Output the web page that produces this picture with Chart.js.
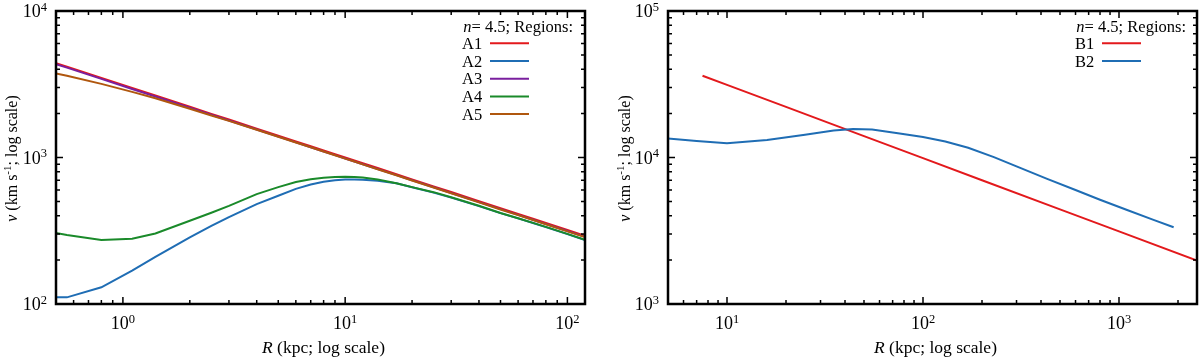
<!DOCTYPE html>
<html>
<head>
<meta charset="utf-8">
<script src="https://cdn.jsdelivr.net/npm/chart.js@4.4.1/dist/chart.umd.min.js"></script>
<style>
  html, body { margin: 0; padding: 0; background: #fff; }
  #wrap { position: relative; width: 1200px; height: 358px; }
  canvas { position: absolute; top: 0; }
</style>
</head>
<body>
<div id="wrap">
  <canvas id="chartA" width="600" height="358" style="left:0"></canvas>
  <canvas id="chartB" width="600" height="358" style="left:600px"></canvas>
</div>
<script>
// ---- left panel: regions A (R in kpc, v in km/s) ----
var rA  = [0.5, 0.56, 0.8, 1.1, 1.4, 2, 2.5, 3, 4, 5, 6, 7, 8, 9, 10, 11, 12, 14, 17, 20, 25, 30, 40, 50, 60, 70, 80, 100, 120];
var vA1 = [4406, 4166, 3492, 2982, 2647, 2219, 1986, 1815, 1574, 1409, 1288, 1194, 1117, 1054, 1000, 954, 914, 847, 769, 709, 635, 581, 503, 451, 412, 382, 357, 320, 292];
var vA2 = [111, 111, 130, 169, 210, 285, 341, 392, 481, 548, 611, 655, 683, 700, 708, 709, 706, 695, 668, 627, 576, 532, 466, 417, 384, 357, 335, 300, 273];
var vA3 = [4341, 4104, 3440, 2938, 2608, 2186, 1957, 1788, 1551, 1388, 1269, 1176, 1100, 1038, 985, 940, 900, 834, 758, 699, 626, 572, 496, 444, 406, 376, 352, 315, 288];
var vA4 = [305, 296, 273, 279, 303, 370, 420, 468, 562, 628, 680, 710, 728, 737, 740, 737, 731, 708, 668, 628, 580, 535, 468, 418, 385, 358, 336, 301, 274];
var vA5 = [3743, 3612, 3182, 2806, 2535, 2153, 1937, 1779, 1546, 1385, 1266, 1174, 1098, 1036, 983, 938, 898, 832, 756, 697, 624, 570, 494, 442, 404, 374, 350, 313, 286];

// ---- right panel: regions B ----
var rB1 = [7.5, 10, 20, 50, 100, 200, 500, 1000, 2500];
var vB1 = [36150, 31300, 22140, 14000, 9900, 7000, 4427, 3130, 1980];
var rB2 = [5, 7, 10, 16, 25, 35, 44, 55, 76, 100, 130, 170, 230, 300, 430, 600, 800, 1100, 1500, 1900];
var vB2 = [13500, 12950, 12500, 13150, 14300, 15300, 15650, 15550, 14600, 13800, 12850, 11650, 10050, 8700, 7150, 6000, 5150, 4380, 3750, 3340];

// ---- axes ----
var xTicksA = [1, 10, 100];        var xExpA = ['0', '1', '2'];
var yTicksA = [100, 1000, 10000];  var yExpA = ['2', '3', '4'];
var xTicksB = [10, 100, 1000];     var xExpB = ['1', '2', '3'];
var yTicksB = [1000, 10000, 100000]; var yExpB = ['3', '4', '5'];

var namesA = ['A1', 'A2', 'A3', 'A4', 'A5'];
var namesB = ['B1', 'B2'];
var RED = '#e3191c', BLUE = '#1f6db4', PURPLE = '#7a1f9e', GREEN = '#1a8a2a', BROWN = '#b0570e';

var SERIF = '"Liberation Serif", "DejaVu Serif", serif';

function pts(xs, ys) {
  return xs.map(function (x, i) { return { x: x, y: ys[i] }; });
}

function minorValues(min, max) {
  var out = [];
  for (var d = Math.floor(Math.log10(min)); d <= Math.floor(Math.log10(max)); d++) {
    for (var m = 1; m <= 9; m++) {
      var v = m * Math.pow(10, d);
      if (v >= min * 0.999 && v <= max * 1.001) out.push({ v: v, major: m === 1 });
    }
  }
  return out;
}

function powLabel(ctx, x, y, exp, align) {
  ctx.font = '18px ' + SERIF;
  var w1 = ctx.measureText('10').width;
  ctx.font = '12.5px ' + SERIF;
  var w2 = ctx.measureText(exp).width;
  var x0 = align === 'right' ? x - w1 - w2 : x - (w1 + w2) / 2;
  ctx.font = '18px ' + SERIF;
  ctx.fillText('10', x0, y);
  ctx.font = '12.5px ' + SERIF;
  ctx.fillText(exp, x0 + w1, y - 6.5);
}

function decor(p) {
  return {
    id: 'decor',
    afterDraw: function (chart) {
      var ctx = chart.ctx, a = chart.chartArea, xs = chart.scales.x, ys = chart.scales.y;
      ctx.save();
      ctx.strokeStyle = '#000';
      ctx.fillStyle = '#000';

      // inward ticks, all four sides
      ctx.lineWidth = 1.5;
      ctx.beginPath();
      minorValues(xs.min, xs.max).forEach(function (t) {
        var px = xs.getPixelForValue(t.v), len = t.major ? 7 : 4;
        ctx.moveTo(px, a.bottom); ctx.lineTo(px, a.bottom - len);
        ctx.moveTo(px, a.top); ctx.lineTo(px, a.top + len);
      });
      minorValues(ys.min, ys.max).forEach(function (t) {
        var py = ys.getPixelForValue(t.v), len = t.major ? 7 : 4;
        ctx.moveTo(a.left, py); ctx.lineTo(a.left + len, py);
        ctx.moveTo(a.right, py); ctx.lineTo(a.right - len, py);
      });
      ctx.stroke();

      // frame
      ctx.lineWidth = 2.5;
      ctx.strokeRect(a.left, a.top, a.right - a.left, a.bottom - a.top);

      // tick labels
      ctx.textBaseline = 'alphabetic';
      ctx.textAlign = 'left';
      p.xTicks.forEach(function (v, i) {
        powLabel(ctx, xs.getPixelForValue(v), a.bottom + 25, p.xExp[i], 'center');
      });
      p.yTicks.forEach(function (v, i) {
        powLabel(ctx, a.left - 9, ys.getPixelForValue(v) + 6, p.yExp[i], 'right');
      });

      // x title
      ctx.font = 'italic 17.5px ' + SERIF;
      var wR = ctx.measureText('R').width;
      ctx.font = '17.5px ' + SERIF;
      var rest = ' (kpc; log scale)';
      var wRest = ctx.measureText(rest).width;
      var cx = (a.left + a.right) / 2 + 3 - (wR + wRest) / 2;
      ctx.font = 'italic 17.5px ' + SERIF;
      ctx.fillText('R', cx, 353);
      ctx.font = '17.5px ' + SERIF;
      ctx.fillText(rest, cx + wR, 353);

      // y title (rotated)
      ctx.save();
      ctx.translate(p.yTitleX, (a.top + a.bottom) / 2 + 1);
      ctx.rotate(-Math.PI / 2);
      var parts = [
        { t: 'v', f: 'italic 16px ' + SERIF, dy: 0 },
        { t: ' (km s', f: '16px ' + SERIF, dy: 0 },
        { t: '-1', f: '11px ' + SERIF, dy: -6 },
        { t: '; log scale)', f: '16px ' + SERIF, dy: 0 }
      ];
      var tot = 0;
      parts.forEach(function (q) { ctx.font = q.f; q.w = ctx.measureText(q.t).width; tot += q.w; });
      var ox = -tot / 2;
      parts.forEach(function (q) { ctx.font = q.f; ctx.fillText(q.t, ox, q.dy); ox += q.w; });
      ctx.restore();

      // legend
      ctx.font = 'italic 16.5px ' + SERIF;
      var wn = ctx.measureText('n').width;
      ctx.font = '16.5px ' + SERIF;
      var head = '= 4.5; Regions:';
      var wh = ctx.measureText(head).width;
      var hx = p.legRight - wn - wh;
      ctx.font = 'italic 16.5px ' + SERIF;
      ctx.fillText('n', hx, 32);
      ctx.font = '16.5px ' + SERIF;
      ctx.fillText(head, hx + wn, 32);
      chart.data.datasets.forEach(function (ds, i) {
        var ly = 43.3 + i * 17.7;
        ctx.fillStyle = '#000';
        ctx.fillText(ds.label, p.legLabelX, ly + 5.5);
        ctx.strokeStyle = ds.borderColor;
        ctx.lineWidth = 2;
        ctx.beginPath();
        ctx.moveTo(p.legLine0, ly); ctx.lineTo(p.legLine1, ly);
        ctx.stroke();
      });
      ctx.restore();
    }
  };
}

function baseOptions(pad, xmin, xmax, ymin, ymax) {
  return {
    responsive: false,
    animation: false,
    layout: { padding: pad },
    elements: { point: { radius: 0 }, line: { borderWidth: 2, tension: 0 } },
    scales: {
      x: { type: 'logarithmic', min: xmin, max: xmax, display: false },
      y: { type: 'logarithmic', min: ymin, max: ymax, display: false }
    },
    plugins: { legend: { display: false }, tooltip: { enabled: false } }
  };
}

var ctxA = document.getElementById('chartA').getContext('2d');
var chartA = new Chart(ctxA, {
  type: 'line',
  data: {
    datasets: [
      { label: namesA[0], data: pts(rA, vA1), borderColor: RED, order: 4 },
      { label: namesA[1], data: pts(rA, vA2), borderColor: BLUE, order: 3 },
      { label: namesA[2], data: pts(rA, vA3), borderColor: PURPLE, order: 2 },
      { label: namesA[3], data: pts(rA, vA4), borderColor: GREEN, order: 1 },
      { label: namesA[4], data: pts(rA, vA5), borderColor: BROWN, order: 0 }
    ]
  },
  options: baseOptions({ left: 56, right: 15, top: 11, bottom: 54 }, 0.5, 120, 100, 10000),
  plugins: [decor({
    xTicks: xTicksA, xExp: xExpA, yTicks: yTicksA, yExp: yExpA,
    yTitleX: 17, legRight: 573, legLabelX: 462, legLine0: 490, legLine1: 529
  })]
});

var ctxB = document.getElementById('chartB').getContext('2d');
var chartB = new Chart(ctxB, {
  type: 'line',
  data: {
    datasets: [
      { label: namesB[0], data: pts(rB1, vB1), borderColor: RED, order: 1 },
      { label: namesB[1], data: pts(rB2, vB2), borderColor: BLUE, order: 0 }
    ]
  },
  options: baseOptions({ left: 68, right: 3, top: 11, bottom: 54 }, 5, 2500, 1000, 100000),
  plugins: [decor({
    xTicks: xTicksB, xExp: xExpB, yTicks: yTicksB, yExp: yExpB,
    yTitleX: 30, legRight: 586, legLabelX: 475, legLine0: 502, legLine1: 541
  })]
});
</script>
</body>
</html>
